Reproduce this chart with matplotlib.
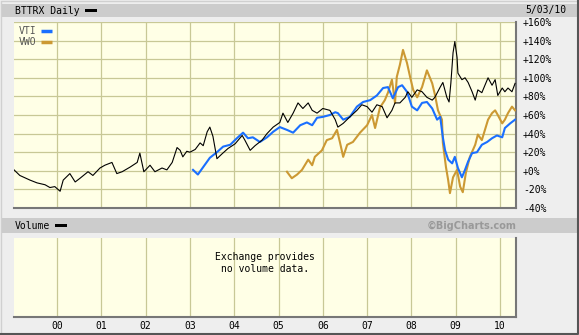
import matplotlib
matplotlib.use("Agg")
import matplotlib.pyplot as plt
from matplotlib.patches import Rectangle
from matplotlib.lines import Line2D

W, H = 579, 335

# BTTRX daily, % change (decimal year, value)
bttrx_t = [1999.03, 1999.16, 1999.39, 1999.55, 1999.73, 1999.84, 1999.95, 2000.07, 2000.14, 2000.29,
           2000.41, 2000.52, 2000.70, 2000.81, 2000.97, 2001.08, 2001.24, 2001.35, 2001.47, 2001.65,
           2001.81, 2001.87, 2001.96, 2002.10, 2002.21, 2002.37, 2002.48, 2002.60, 2002.71, 2002.78,
           2002.84, 2002.93, 2003.00, 2003.12, 2003.23, 2003.30, 2003.39, 2003.45, 2003.52, 2003.61,
           2003.72, 2003.86, 2004.02, 2004.18, 2004.24, 2004.36, 2004.47, 2004.63, 2004.74, 2004.88,
           2005.03, 2005.10, 2005.21, 2005.33, 2005.44, 2005.55, 2005.67, 2005.76, 2005.87, 2006.00,
           2006.16, 2006.28, 2006.34, 2006.46, 2006.61, 2006.77, 2006.88, 2007.00, 2007.11, 2007.22,
           2007.34, 2007.45, 2007.56, 2007.63, 2007.74, 2007.86, 2007.92, 2008.01, 2008.13, 2008.24,
           2008.35, 2008.47, 2008.53, 2008.65, 2008.71, 2008.80, 2008.85, 2008.89, 2008.94, 2008.98,
           2009.03, 2009.05, 2009.14, 2009.21, 2009.28, 2009.37, 2009.44, 2009.50, 2009.59, 2009.66,
           2009.73, 2009.82, 2009.89, 2009.95, 2010.05, 2010.11, 2010.18, 2010.27, 2010.34]
bttrx_v = [1, -5, -10, -13, -15, -18, -17, -22, -10, -3,
           -12, -8, -1, -5, 3, 6, 9, -3, -1, 4,
           9, 19, -1, 6, -1, 3, 1, 9, 25, 22,
           15, 21, 20, 23, 30, 27, 42, 47, 37, 13,
           18, 24, 29, 38, 33, 22, 27, 33, 40, 47,
           52, 62, 52, 62, 73, 67, 73, 65, 62, 67,
           65, 55, 47, 51, 58, 65, 71, 69, 63, 71,
           69, 57, 65, 73, 73, 79, 85, 79, 87, 85,
           79, 76, 79, 90, 95, 79, 74, 94, 127, 139,
           122, 105, 98, 100, 95, 85, 76, 87, 84, 92,
           100, 92, 98, 81, 89, 85, 89, 85, 94]

vti_t = [2003.07, 2003.18, 2003.30, 2003.45, 2003.61, 2003.75, 2003.91, 2004.06, 2004.20, 2004.31,
         2004.42, 2004.58, 2004.74, 2004.88, 2005.03, 2005.19, 2005.33, 2005.49, 2005.64, 2005.76,
         2005.87, 2006.00, 2006.16, 2006.28, 2006.34, 2006.46, 2006.61, 2006.77, 2006.91, 2007.07,
         2007.22, 2007.36, 2007.47, 2007.58, 2007.70, 2007.79, 2007.90, 2008.01, 2008.13, 2008.24,
         2008.35, 2008.47, 2008.58, 2008.65, 2008.71, 2008.76, 2008.83, 2008.92, 2008.98, 2009.05,
         2009.14, 2009.21, 2009.28, 2009.37, 2009.48, 2009.59, 2009.71, 2009.82, 2009.93, 2010.05,
         2010.11, 2010.23, 2010.34]
vti_v = [1, -4, 4, 14, 20, 26, 28, 35, 41, 35,
         36, 31, 36, 42, 47, 44, 41, 49, 52, 49,
         57, 58, 60, 63, 62, 55, 58, 69, 74, 76,
         81, 89, 90, 78, 90, 92, 85, 69, 65, 73,
         74, 67, 55, 58, 36, 22, 12, 8, 15, 3,
         -7, 1, 10, 19, 20, 28, 31, 35, 38, 36,
         46, 51, 55]

vwo_t = [2005.19, 2005.30, 2005.42, 2005.53, 2005.67, 2005.76, 2005.82, 2005.98, 2006.09, 2006.21,
         2006.32, 2006.39, 2006.46, 2006.55, 2006.68, 2006.84, 2007.00, 2007.11, 2007.18, 2007.29,
         2007.40, 2007.47, 2007.56, 2007.63, 2007.67, 2007.74, 2007.81, 2007.90, 2007.97, 2008.04,
         2008.13, 2008.24, 2008.35, 2008.47, 2008.53, 2008.60, 2008.69, 2008.71, 2008.78, 2008.83,
         2008.87, 2008.94, 2009.03, 2009.10, 2009.16, 2009.23, 2009.32, 2009.44, 2009.50, 2009.59,
         2009.66, 2009.73, 2009.82, 2009.89, 2009.95, 2010.05, 2010.11, 2010.18, 2010.27, 2010.34]
vwo_v = [-1, -8, -4, 1, 12, 6, 15, 22, 33, 35,
         44, 30, 15, 28, 31, 41, 49, 60, 46, 68,
         76, 84, 98, 73, 101, 114, 130, 116, 101, 87,
         79, 90, 108, 94, 82, 65, 55, 30, 4, -10,
         -24, -7, 1, -17, -23, -2, 15, 28, 39, 33,
         44, 55, 62, 65, 60, 51, 55, 62, 69, 65]

years = list(range(2000, 2011))
year_labels = ["00", "01", "02", "03", "04", "05", "06", "07", "08", "09", "10"]
pct_ticks = list(range(-40, 161, 20))
pct_labels = [("+%d%%" % p if p >= 0 else "%d%%" % p) for p in pct_ticks]

MONO = "DejaVu Sans Mono"
BG = "#eeeeee"
PLOT_BG = "#ffffe6"
GRID = "#c8c896"
BLUE = "#1a6fff"
GOLD = "#cc9933"


def fx(px):
    return px / W


def fy(py):
    return 1 - py / H


def box(x0, y0, x1, y1, **kw):
    fig.patches.append(Rectangle((fx(x0), fy(y1)), fx(x1) - fx(x0), fy(y0) - fy(y1),
                                 transform=fig.transFigure, figure=fig, **kw))


def fline(xs, ys, **kw):
    fig.lines.append(Line2D([fx(x) for x in xs], [fy(y) for y in ys],
                            transform=fig.transFigure, figure=fig, **kw))


fig = plt.figure(figsize=(W / 100, H / 100), dpi=100, facecolor=BG)

# outer frame and header bars
fline([0.5, 0.5, 578], [334, 0.5, 0.5], color="#d0d0d0", lw=1.0)
fline([0, 577.8, 577.8], [333.8, 333.8, 0], color="#555555", lw=1.5)
box(2, 4, 578, 17, facecolor="#cccccc", edgecolor="none")
box(2, 218, 578, 233, facecolor="#cccccc", edgecolor="none")

xmin, xmax = 1999.029, 2010.361

# main price panel
ax = fig.add_axes([fx(14), fy(208), fx(516) - fx(14), fy(22) - fy(208)])
ax.set_facecolor(PLOT_BG)
ax.plot(vwo_t, vwo_v, color=GOLD, lw=1.5, zorder=3)
ax.plot(vti_t, vti_v, color=BLUE, lw=1.5, zorder=4)
ax.plot(bttrx_t, bttrx_v, color="black", lw=0.8, zorder=5)
ax.set_xlim(xmin, xmax)
ax.set_ylim(-40, 160)
ax.set_xticks(years)
ax.set_xticklabels([])
ax.set_yticks(pct_ticks)
ax.set_yticklabels(pct_labels, family=MONO, fontsize=7)
ax.yaxis.tick_right()
ax.tick_params(length=0, pad=5)
for lbl in ax.get_yticklabels():
    lbl.set_horizontalalignment("left")
ax.grid(True, color=GRID, lw=0.9, zorder=1)
ax.set_axisbelow(True)
for s in ["top", "left"]:
    ax.spines[s].set_visible(False)
for s in ["bottom", "right"]:
    ax.spines[s].set_color("#777777")
    ax.spines[s].set_linewidth(1.5)

# legend inside main panel
ax.text(0.01, 0.952, "VTI", transform=ax.transAxes, family=MONO, fontsize=7,
        color="#555555", va="center", ha="left")
ax.plot([0.054, 0.076], [0.952, 0.952], transform=ax.transAxes, color=BLUE, lw=2.5,
        solid_capstyle="butt", zorder=6)
ax.text(0.01, 0.893, "VWO", transform=ax.transAxes, family=MONO, fontsize=7,
        color="#555555", va="center", ha="left")
ax.plot([0.054, 0.076], [0.893, 0.893], transform=ax.transAxes, color=GOLD, lw=2.5,
        solid_capstyle="butt", zorder=6)

# header texts
fig.text(fx(15), fy(10.5), "BTTRX Daily", family=MONO, fontsize=7, va="center", ha="left")
box(85, 9, 97, 12, facecolor="black", edgecolor="none")
fig.text(fx(566), fy(9.5), "5/03/10", family=MONO, fontsize=7, va="center", ha="right")

fig.text(fx(15), fy(226), "Volume", family=MONO, fontsize=7, va="center", ha="left")
box(55, 224, 67, 227, facecolor="black", edgecolor="none")
fig.text(fx(516), fy(225.5), "\u00a9BigCharts.com", family="DejaVu Sans", weight="bold",
         fontsize=7, color="#999999", va="center", ha="right")

# volume panel
axv = fig.add_axes([fx(14), fy(317), fx(516) - fx(14), fy(238) - fy(317)])
axv.set_facecolor(PLOT_BG)
axv.set_xlim(xmin, xmax)
axv.set_ylim(0, 1)
axv.set_xticks(years)
axv.set_xticklabels(year_labels, family=MONO, fontsize=7)
axv.set_yticks([])
axv.tick_params(length=0, pad=3)
axv.grid(True, axis="x", color=GRID, lw=0.9)
axv.set_axisbelow(True)
for s in ["top", "left"]:
    axv.spines[s].set_visible(False)
for s in ["bottom", "right"]:
    axv.spines[s].set_color("#777777")
    axv.spines[s].set_linewidth(1.5)
axv.text(0.5, 0.68, "Exchange provides\nno volume data.", transform=axv.transAxes,
         family=MONO, fontsize=7, ha="center", va="center", linespacing=1.3)

fig.savefig("out.png", dpi=100, facecolor=BG)
